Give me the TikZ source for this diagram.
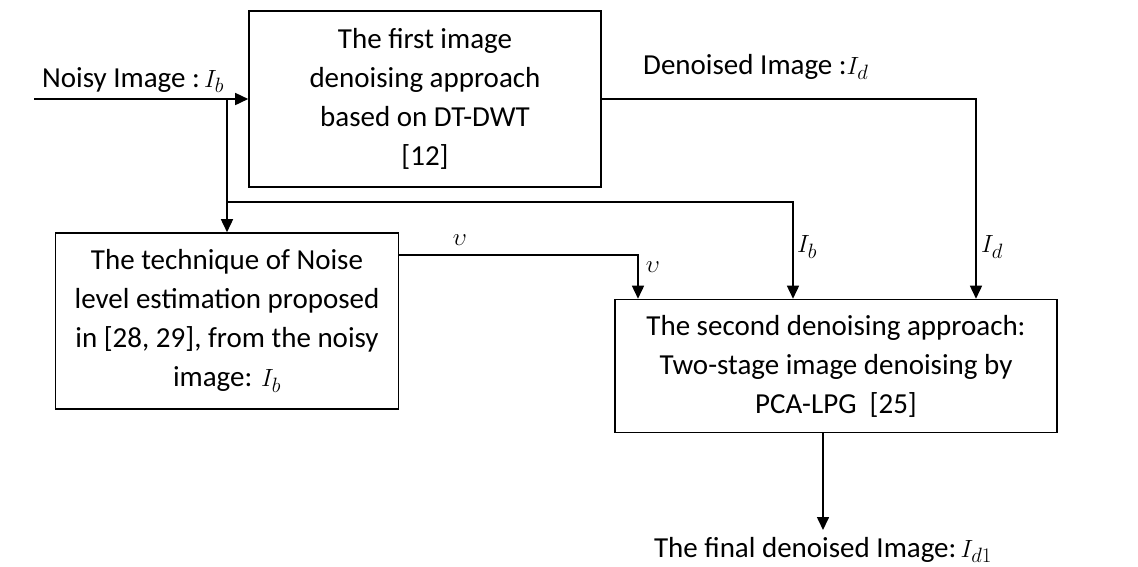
\documentclass[tikz,border=0pt]{standalone}
\usepackage{fontspec}
\setmainfont{Carlito}
\usetikzlibrary{arrows.meta}
\begin{document}
\begin{tikzpicture}[x=1pt,y=-1pt,
  bloc/.style={draw, line width=1.6pt, align=center, inner sep=0pt, font=\fontsize{29}{39}\selectfont},
  lbl/.style={font=\fontsize{29}{39}\selectfont, inner sep=0pt},
  trait/.style={line width=1.6pt},
  fl/.style={line width=1.6pt, -{Triangle[length=13pt,width=12pt]}}]
\useasboundingbox (0,0) rectangle (1138,566);
% les blocs
\node [bloc, minimum width=352, minimum height=176] (first) at (425,99) {The first image\\denoising approach\\based on DT-DWT\\{[12]}};
\node [bloc, minimum width=343, minimum height=176] (noise) at (227,321) {The technique of Noise\\level estimation proposed\\in [28, 29], from the noisy\\image: $I_b$};
\node [bloc, minimum width=442, minimum height=133] (second) at (836,366) {The second denoising approach:\\Two-stage image denoising by\\PCA-LPG\ \ [25]};
% les textes
\node [lbl, anchor=west] (noisy) at (42,80) {Noisy Image :$\,I_b$};
\node [lbl, anchor=west] (denoised) at (643,67) {Denoised Image :$I_d$};
\node [lbl] (u1) at (460,240) {$\upsilon$};
\node [lbl] (u2) at (653,267) {$\upsilon$};
\node [lbl] (ib1) at (807,247) {$I_b$};
\node [lbl] (id1) at (992,247) {$I_d$};
% les fleches
\coordinate (in) at (34,99);
\coordinate (split) at (noise.north |- first.west);
\draw [trait] (in) -- (split);
\draw [fl] (split) -- (first.west);
\draw [fl] (split) -- (noise.north);
\coordinate (ib) at (793,202);
\draw [fl] (split |- ib) -- (ib) -- (ib |- second.north);
\coordinate (v) at (638,255);
\draw [fl] (noise.east |- v) -- (v) -- (v |- second.north);
\coordinate (d) at (976,99);
\draw [fl] (first.east) -- (d) -- (d |- second.north);
\coordinate (fin) at (823,530);
\draw [fl] (second.south -| fin) -- (fin);
\node [lbl, anchor=base] (final) at (823,557) {The final denoised Image:$\,I_{d1}$};
\end{tikzpicture}
\end{document}
